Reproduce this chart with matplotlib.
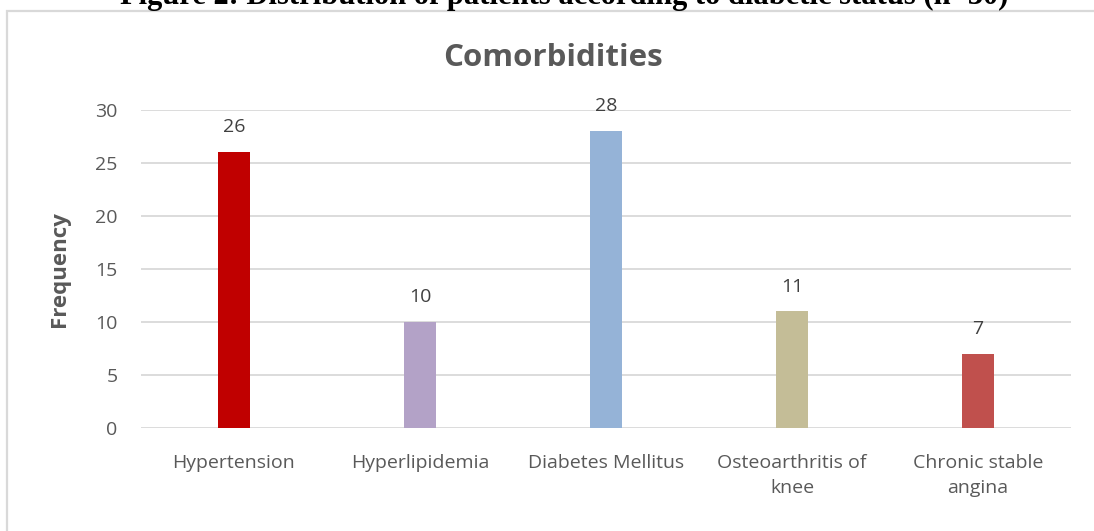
import matplotlib
matplotlib.use("Agg")
import matplotlib.pyplot as plt
from matplotlib.patches import Rectangle

categories = ["Hypertension", "Hyperlipidemia", "Diabetes Mellitus",
              "Osteoarthritis of\nknee", "Chronic stable\nangina"]
values = [26, 10, 28, 11, 7]
colors = ["#C00000", "#B3A2C7", "#95B3D7", "#C4BD97", "#C0504D"]
yticks = [0, 5, 10, 15, 20, 25, 30]

W, H = 1094, 531
txt = "#595959"
font = "Open Sans"

fig = plt.figure(figsize=(W / 100, H / 100), dpi=100)
fig.patch.set_facecolor("white")

# outer chart border (open on the right/bottom, like the cropped original)
fig.add_artist(Rectangle((7 / W, -0.1), 1.2, 1 - 11 / H + 0.1,
                         transform=fig.transFigure, fill=False,
                         edgecolor="#D9D9D9", linewidth=1.6))

# cropped caption above the chart
fig.text(564 / W, 1 - 4 / H, "Figure 2: Distribution of patients according to diabetic status (n=30)",
         ha="center", va="baseline", fontsize=22, fontweight="bold",
         family="Liberation Serif", color="black")

ax = fig.add_axes([141 / W, 103 / H, 930 / W, 318 / H])
x = range(len(categories))
bars = ax.bar(x, values, width=0.177, color=colors, zorder=3)
for b, v in zip(bars, values):
    ax.text(b.get_x() + b.get_width() / 2, v + 1.5, str(v), ha="center", va="bottom",
            fontsize=14, color="#404040", family=font)

ax.set_xlim(-0.5, len(categories) - 0.5)
ax.set_ylim(0, 30)
ax.set_yticks(yticks)
ax.set_xticks(list(x))
ax.set_xticklabels(categories, fontsize=14, color=txt, family=font, linespacing=1.45)
for lbl in ax.get_yticklabels():
    lbl.set_fontsize(14)
    lbl.set_color(txt)
    lbl.set_family(font)
ax.tick_params(axis="both", length=0)
ax.tick_params(axis="x", pad=19)
ax.tick_params(axis="y", pad=17)
ax.grid(axis="y", color="#D9D9D9", linewidth=1.3, zorder=0)
for s in ax.spines.values():
    s.set_visible(False)
ax.set_ylabel("Frequency", fontsize=16, fontweight="bold", color=txt, family=font, labelpad=18)

fig.text(553 / W, 1 - 66 / H, "Comorbidities", ha="center", va="baseline",
         fontsize=22.5, fontweight="bold", color=txt, family=font)

fig.savefig("out.png", dpi=100)
